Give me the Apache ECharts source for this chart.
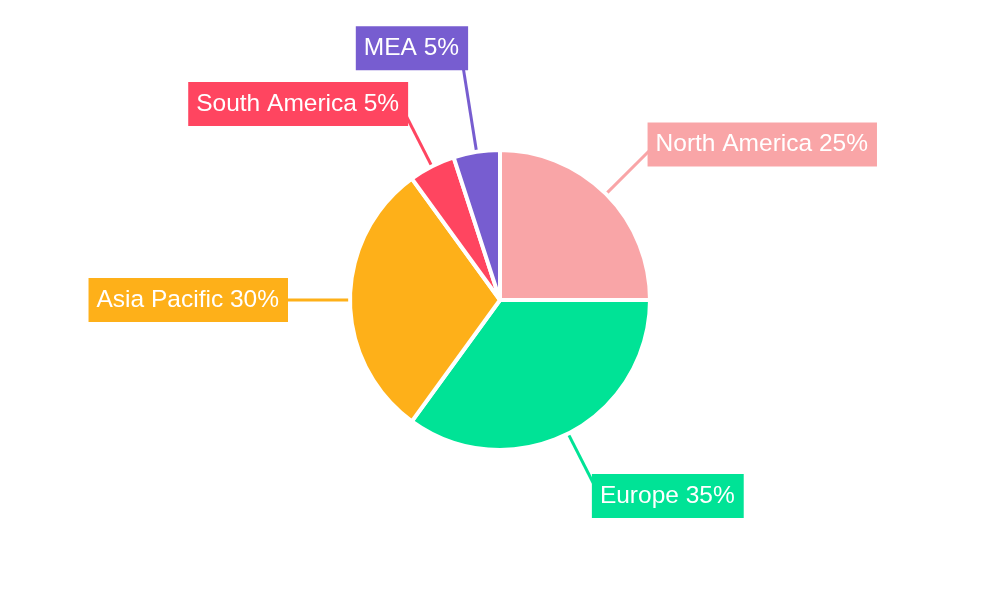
<!DOCTYPE html>
<html><head><meta charset="utf-8">
<script src="https://cdn.jsdelivr.net/npm/echarts@6/dist/echarts.min.js"></script>
<style>html,body{margin:0;padding:0;background:#fff}#c{width:1000px;height:600px}</style>
</head><body><div id="c"></div>
<script>
const categories = ['North America', 'Europe', 'Asia Pacific', 'South America', 'MEA'];
const values = [25, 35, 30, 5, 5];
const colors = ['#F9A5A7', '#00E396', '#FEB019', '#FF4560', '#775DD0'];
const lineLengths = [70, 70, 70, 70, 105];

const chart = echarts.init(document.getElementById('c'));
chart.setOption({
  animation: false,
  series: [{
    type: 'pie',
    center: ['50%', '50%'],
    radius: 150,
    startAngle: 90,
    clockwise: true,
    avoidLabelOverlap: false,
    itemStyle: { borderColor: '#fff', borderWidth: 4 },
    label: {
      formatter: '{b} {d}%',
      color: '#fff',
      fontFamily: 'Liberation Sans, Arial, sans-serif',
      fontSize: 24.5,
      lineHeight: 24,
      padding: [10, 9, 10, 8],
      distanceToLabelLine: -8
    },
    labelLine: { length: 70, length2: 0, lineStyle: { width: 3 } },
    data: categories.map((n, i) => ({
      name: n, value: values[i],
      itemStyle: { color: colors[i] },
      label: { backgroundColor: colors[i] },
      labelLine: { length: lineLengths[i], length2: 0 }
    }))
  }]
});
</script></body></html>
